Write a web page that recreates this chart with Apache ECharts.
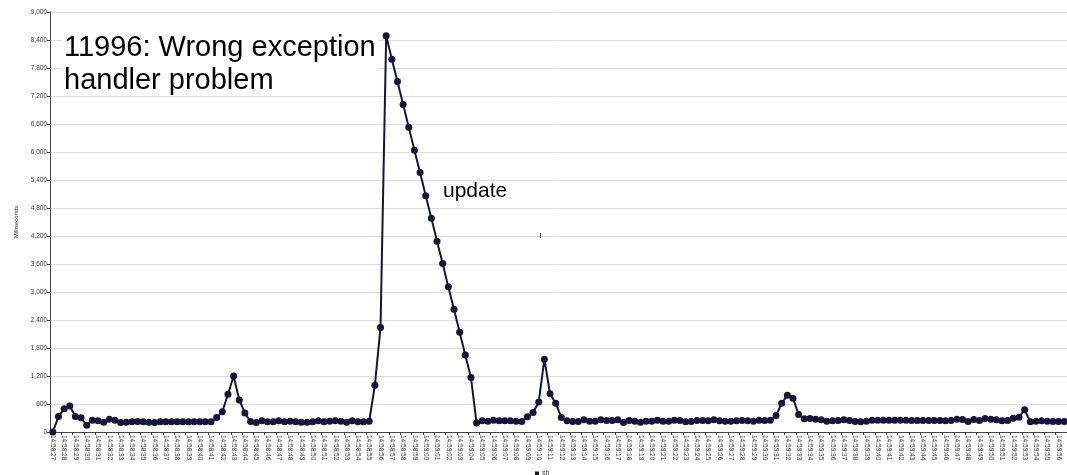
<!DOCTYPE html>
<html>
<head>
<meta charset="utf-8">
<script src="https://cdn.jsdelivr.net/npm/echarts@6/dist/echarts.min.js"></script>
<style>
html,body{margin:0;padding:0;background:#fff;overflow:hidden;}
#chart{width:1067px;height:475px;}
</style>
</head>
<body>
<div id="chart"></div>
<script>
// ---- data ----
var seriesName = 'sh';
var startTime = '14:58:27';   // first category label
var stepSeconds = 0.5;        // two samples per second
var shValues = [
  0, 331, 499, 557, 333, 304, 145, 253, 239, 210,
  275, 253, 202, 210, 217, 224, 217, 210, 202, 217,
  217, 217, 217, 217, 217, 217, 217, 217, 217, 311,
  434, 810, 1200, 687, 405, 224, 202, 239, 217, 217,
  239, 217, 231, 217, 210, 210, 217, 239, 217, 231,
  239, 231, 210, 239, 217, 217, 231, 1000, 2240, 8490,
  7990, 7510, 7020, 6530, 6040, 5560, 5060, 4580, 4090, 3610,
  3110, 2630, 2140, 1650, 1170, 195, 239, 231, 253, 239,
  239, 239, 231, 224, 325, 419, 643, 1560, 820, 618,
  311, 239, 224, 224, 260, 231, 231, 260, 246, 246,
  260, 202, 246, 231, 210, 231, 231, 253, 231, 231,
  253, 246, 217, 224, 246, 246, 239, 260, 239, 231,
  231, 239, 246, 239, 231, 253, 246, 253, 354, 614,
  788, 723, 376, 282, 289, 275, 260, 231, 239, 246,
  260, 246, 224, 217, 231, 253, 253, 253, 253, 253,
  253, 253, 246, 246, 246, 246, 246, 246, 239, 246,
  275, 268, 224, 268, 246, 289, 275, 260, 239, 246,
  296, 318, 477, 217, 231, 239, 231, 224, 224, 224
];
var yTicks = [0, 600, 1200, 1800, 2400, 3000, 3600, 4200, 4800, 5400, 6000, 6600, 7200, 7800, 8400, 9000];
var titleText = '11996: Wrong exception\nhandler problem';
var noteText = 'update';
var yName = 'Milliseconds';

// ---- categories (time labels) ----
function pad(n){ return (n < 10 ? '0' : '') + n; }
var parts = startTime.split(':').map(Number);
var base = parts[0]*3600 + parts[1]*60 + parts[2];
var categories = shValues.map(function(_, i){
  var t = base + i*stepSeconds;
  var whole = Math.floor(t);
  var s = pad(Math.floor(whole/3600)) + ':' + pad(Math.floor(whole%3600/60)) + ':' + pad(whole%60);
  return (t - whole) ? s + '.5' : s;
});

var chart = echarts.init(document.getElementById('chart'), null, {renderer:'canvas'});
var lineColor = '#14143c';
var option = {
  animation: false,
  backgroundColor: '#fff',
  textStyle: { fontFamily: '"Liberation Sans", Arial, sans-serif' },
  grid: { left: 50, right: -7, top: 12, bottom: 43, containLabel: false },
  legend: {
    data: [seriesName],
    left: 530, top: 465,
    icon: 'rect', itemWidth: 4, itemHeight: 4, itemGap: 4,
    textStyle: { fontSize: 7, color: '#333', padding: [0,0,0,-2] }
  },
  xAxis: {
    type: 'category',
    data: categories,
    boundaryGap: true,
    axisLine: { lineStyle: { color: '#444', width: 1 } },
    axisTick: { show: true, interval: 1, length: 3, lineStyle: { color: '#444' } },
    axisLabel: { interval: 1, rotate: -90, fontSize: 6.5, color: '#333', margin: 3 },
    splitLine: { show: false }
  },
  yAxis: {
    type: 'value',
    min: yTicks[0], max: yTicks[yTicks.length-1], interval: yTicks[1]-yTicks[0],
    name: yName, nameLocation: 'middle', nameGap: 28, nameRotate: 90,
    nameTextStyle: { fontSize: 6, color: '#333' },
    axisLine: { show: true, lineStyle: { color: '#444', width: 1 } },
    axisTick: { show: true, length: 3, lineStyle: { color: '#444' } },
    axisLabel: { fontSize: 6.5, color: '#333', margin: 3,
      formatter: function(v){ return v.toString().replace(/\B(?=(\d{3})+(?!\d))/g, ','); } },
    splitLine: { show: true, lineStyle: { color: '#dcdcdc', width: 1 } }
  },
  series: [{
    name: seriesName,
    type: 'line',
    data: shValues,
    symbol: 'circle',
    symbolSize: 7,
    showSymbol: true,
    showAllSymbol: true,
    itemStyle: { color: lineColor },
    lineStyle: { color: lineColor, width: 2 }
  }],
  graphic: [
    { type: 'rect', shape: { x: 62, y: 30, width: 316, height: 63 }, style: { fill: '#fff' }, z: 90 },
    { type: 'text', left: 64, top: 31, z: 100,
      style: { text: titleText, font: '29px "Liberation Sans", Arial, sans-serif', fill: '#000', lineHeight: 33 } },
    { type: 'text', left: 443, top: 181, z: 100,
      style: { text: noteText, font: '21px "Liberation Sans", Arial, sans-serif', fill: '#000' } },
    { type: 'line', shape: { x1: 540.5, y1: 233, x2: 540.5, y2: 238 }, style: { stroke: '#333', lineWidth: 1 }, z: 100 }
  ]
};
chart.setOption(option);
</script>
</body>
</html>
